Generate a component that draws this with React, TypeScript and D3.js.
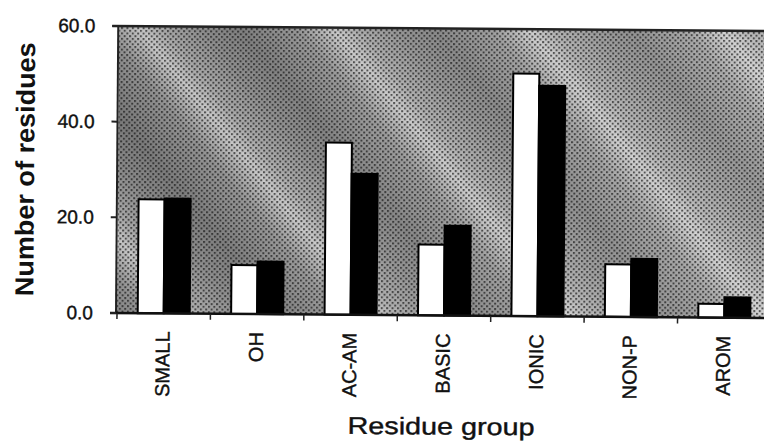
import React from "react";
import * as d3 from "d3";

const categories = ["SMALL", "OH", "AC-AM", "BASIC", "IONIC", "NON-P", "AROM"];
const seriesA = [23.8, 10.2, 36.0, 14.8, 50.7, 11.0, 2.9]; // white bars
const seriesB = [24.0, 11.0, 29.5, 18.8, 48.2, 12.2, 4.3]; // black bars
const yTicks = [0, 20, 40, 60];

const W = 764;
const H = 441;
const left = 117;
const right = 771;
const top = 26;
const bottom = 313;

export default function App() {
  const x = d3.scaleBand<string>().domain(categories).range([left, right]).paddingInner(0).paddingOuter(0);
  const y = d3.scaleLinear().domain([0, 60]).range([bottom, top]);
  const groupW = 52;
  const inner = d3.scaleBand<number>().domain([0, 1]).range([0, groupW]).padding(0);
  const step = x.step();
  const boundaries = d3.range(categories.length + 1).map((i) => left + i * step);
  const font = "Arial, 'Liberation Sans', Helvetica, sans-serif";

  return (
    <svg width={W} height={H} style={{ position: "absolute", left: 0, top: 0, background: "#fff" }} fontFamily={font}>
      <defs>
        <linearGradient id="streak" gradientUnits="userSpaceOnUse" x1={100} y1={330} x2={215} y2={234} spreadMethod="repeat">
          <stop offset="0" stopColor="#7a7a7a" />
          <stop offset="0.3" stopColor="#929292" />
          <stop offset="0.48" stopColor="#c6c6c6" />
          <stop offset="0.6" stopColor="#a6a6a6" />
          <stop offset="0.8" stopColor="#8a8a8a" />
          <stop offset="1" stopColor="#7a7a7a" />
        </linearGradient>
        <linearGradient id="fade" x1="0" y1="0" x2="1" y2="0">
          <stop offset="0" stopColor="#ffffff" stopOpacity="0" />
          <stop offset="0.6" stopColor="#ffffff" stopOpacity="0.15" />
          <stop offset="1" stopColor="#ffffff" stopOpacity="0.25" />
        </linearGradient>
        <pattern id="dots" patternUnits="userSpaceOnUse" width={5.4} height={5.4}>
          <rect x={0} y={0} width={2} height={2} fill="#111" />
          <rect x={2.7} y={2.7} width={2} height={2} fill="#111" />
        </pattern>
      </defs>
      <g transform={`rotate(0.45, ${left}, ${bottom})`}>
        {/* plot background */}
        <rect x={left} y={top} width={right - left} height={bottom - top} fill="url(#streak)" />
        <rect x={left} y={top} width={right - left} height={bottom - top} fill="url(#fade)" />
        <rect x={left} y={top} width={right - left} height={bottom - top} fill="url(#dots)" opacity={0.65} />

        {/* bars */}
        {categories.map((c, i) => {
          const gx = (x(c) as number) + step / 2 - groupW / 2;
          return (
            <g key={c}>
              <rect
                x={gx + (inner(0) as number)}
                y={y(seriesA[i])}
                width={inner.bandwidth()}
                height={y(0) - y(seriesA[i])}
                fill="#fff"
                stroke="#000"
                strokeWidth={2}
              />
              <rect
                x={gx + (inner(1) as number)}
                y={y(seriesB[i])}
                width={inner.bandwidth()}
                height={y(0) - y(seriesB[i])}
                fill="#000"
                stroke="#000"
                strokeWidth={2}
              />
            </g>
          );
        })}

        {/* axes */}
        <line x1={110} x2={right} y1={top} y2={top} stroke="#222" strokeWidth={2.5} />
        <line x1={116} x2={116} y1={top} y2={bottom} stroke="#222" strokeWidth={2} />
        <line x1={110} x2={right} y1={bottom} y2={bottom} stroke="#111" strokeWidth={2.5} />
        {yTicks.map((t) => (
          <g key={t}>
            <line x1={110} x2={116} y1={y(t)} y2={y(t)} stroke="#222" strokeWidth={2} />
            <text x={93} y={y(t)} textAnchor="end" dominantBaseline="central" fontSize={19} fill="#111" stroke="#111" strokeWidth={0.4}>
              {t.toFixed(1)}
            </text>
          </g>
        ))}
        {boundaries.map((b, i) => (
          <line key={i} x1={b} x2={b} y1={bottom} y2={bottom + 6} stroke="#222" strokeWidth={1.5} />
        ))}
        {categories.map((c) => {
          const cx = (x(c) as number) + step / 2 - 1;
          return (
            <text
              key={c}
              transform={`translate(${cx}, 331) rotate(-90)`}
              textAnchor="end"
              dominantBaseline="central"
              fontSize={20}
              fill="#111"
              stroke="#111"
              strokeWidth={0.4}
            >
              {c}
            </text>
          );
        })}

        <text
          transform={`translate(33, 170) rotate(-90)`}
          textAnchor="middle"
          fontSize={26}
          fontWeight="bold"
          fill="#111"
          textLength={254}
          lengthAdjust="spacingAndGlyphs"
        >
          Number of residues
        </text>
        <text x={442} y={432} textAnchor="middle" fontSize={24} fill="#111" stroke="#111" strokeWidth={0.4} textLength={187} lengthAdjust="spacingAndGlyphs">
          Residue group
        </text>
      </g>
    </svg>
  );
}
